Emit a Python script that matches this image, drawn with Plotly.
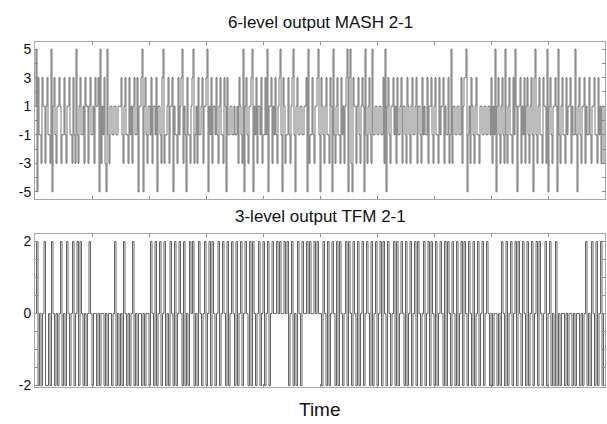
import plotly.graph_objects as go

# 6-level MASH 2-1 output samples (570 samples)
mash_values = [
    1, 5, -5, 3, -1, -1, -3, 3, 1, 1, -3, 1, 3, -1, -1, -3, 5, -5, 1, 3, -1, -3, 1, 1, 3, 1, -3, -1, -1, 3,
    -1, -3, 1, 1, 3, -1, -1, -3, 3, -1, -3, 5, -1, -3, 1, 3, -1, -1, 1, -3, 3, 1, 1, -3, 1, 3, -1, -1, 1, -3,
    3, 1, 1, 3, -5, 5, -3, 1, -1, 3, -3, -5, 5, -1, -3, 1, 1, -1, -1, 1, 1, -1, -1, 1, 1, 1, 3, -1, -3, 1,
    3, -1, -1, -3, 3, -1, 1, -3, 1, 3, -1, -1, 3, -5, 1, 1, 3, 5, -5, 1, 3, -1, -3, 1, 1, -1, 3, -3, 1, 1,
    -1, 3, -5, 1, 1, -1, -3, 3, 5, -3, -1, -1, 1, 3, -3, 1, 1, 3, -5, 1, -1, -1, -3, 3, -1, 1, 3, 5, -3, 1,
    -1, -5, 3, -1, -1, -3, 1, 3, 5, -3, -1, 1, -3, 3, -1, -1, 1, 3, -3, 1, 1, 3, 5, -5, 1, -1, 3, -3, 1, 1,
    -1, 3, -1, -3, 1, 3, -1, -1, -3, 3, 1, -5, 3, -1, -1, 1, 1, -1, -1, 1, -1, -1, 1, -3, 3, 1, -1, -3, 5, -5,
    1, 3, -1, -3, 1, 1, 3, 5, -5, 1, -1, 3, -3, 1, 1, -1, 3, -3, -1, -1, 3, -1, 5, -5, 1, 1, 3, -3, 1, -1,
    3, -1, -3, 1, 3, 5, -1, -5, 3, 1, -3, -1, -1, 3, -1, -3, 1, 3, 5, -1, -5, 1, 3, -1, -1, 1, 1, -1, -1, 1,
    1, 3, -5, 5, -3, -1, -1, 3, -1, -3, 1, 1, 3, 5, -1, -5, 3, 1, -1, -3, 1, 3, -1, -1, -3, 3, 1, -5, 5, -1,
    -3, 1, 3, -1, -1, -3, 3, -1, 1, -3, 1, 3, 5, -5, 3, 5, -3, -5, 3, 1, 1, -3, 1, 3, -1, -3, 1, 3, 1, -5,
    5, -1, -3, 1, 3, -1, -3, 5, -1, -1, 1, 1, -1, -1, 1, 1, -1, -1, 3, -3, 5, -5, 1, 3, -1, -3, 1, 1, 3, -1,
    1, -3, 3, -1, -1, 1, 3, -3, 1, 1, -1, -3, 3, 1, -1, -3, 1, 3, -1, -1, 1, 3, -3, 1, 1, -1, -3, 3, -1, 1,
    -1, -1, 3, -3, 1, 1, 3, -1, -3, 1, 3, -1, -1, -3, 3, -1, 1, 1, 3, -3, 1, -1, -1, 3, -3, -1, 5, -3, 1, 1,
    -1, -1, 1, 1, -1, -1, 3, -3, 1, 3, 3, 5, -5, -1, 1, -3, 3, 1, -1, -3, 1, 3, -1, -1, -3, 1, 1, -1, -1, 1,
    1, -1, -1, 1, 1, -1, 3, -3, 1, -1, 5, -5, 1, 3, -1, -3, 1, 3, -1, -3, 5, -1, -3, 1, 3, -1, -1, -3, 3, -1,
    5, 1, -5, 1, 1, 3, -3, 1, -1, 3, -3, 1, 3, -1, -3, 1, 3, -1, -5, 3, 5, -1, -3, 1, 3, -1, -1, -3, 3, 1,
    1, -3, 5, -5, 1, 3, -1, -3, 1, 1, 3, 1, -5, 5, -1, -3, 1, 3, -1, -1, -3, 3, -1, 1, 1, 3, -3, 1, -1, -1,
    5, -1, -5, 1, 3, -1, -3, 1, 1, 3, -3, 1, -1, -1, 3, -1, -3, 1, 1, 3, -1, -1, -3, 3, -1, 1, -3, 1, 1, -3,
]

# 3-level TFM 2-1 output samples (380 samples)
tfm_values = [
    0, 2, -2, 0, -2, 0, 2, -2, -2, 0, -2, 2, 0, -2, 0, -2, 0, 2, -2, 0, -2, 2, 0, -2, 0, 2, -2, 0, 2, -2, 2, 0, -2, 0, -2, 0, 2, 0,
    -2, 0, 0, -2, 0, -2, 0, 0, -2, 0, -2, 0, 0, -2, 0, 2, -2, 0, -2, 0, -2, 2, 0, -2, 0, -2, 0, 2, -2, 0, -2, 0, 0, -2, 0, -2, 0, 0,
    -2, 2, 0, -2, 2, -2, 0, 2, -2, 0, 2, -2, 0, -2, 2, 0, -2, 2, -2, 0, 2, 0, -2, 2, -2, 0, -2, 2, 0, 2, -2, 0, -2, 2, 0, -2, 0, 2,
    -2, 0, 2, -2, 2, 0, -2, 0, 2, -2, 0, 2, 0, -2, 2, -2, 0, 2, 0, -2, 2, -2, 0, 2, -2, 0, 2, 0, -2, 2, -2, 2, 0, -2, 0, 2, -2, 0,
    2, -2, 0, 2, -2, 0, 2, 0, 0, 2, 0, 2, 0, 0, 2, 0, 2, -2, 0, 2, -2, 0, -2, 2, 0, -2, 2, 0, 0, 2, 0, 2, 0, 0, 2, 0, 2, 0,
    0, -2, 2, 0, -2, 2, -2, 0, 2, 0, -2, 2, -2, 2, 0, -2, 0, 2, -2, 2, 0, -2, 2, 0, -2, 2, -2, 0, 2, -2, 0, 2, 0, -2, 2, -2, 0, 2,
    -2, 0, 2, -2, 2, 0, -2, 2, 0, -2, 0, 2, -2, 2, -2, 0, 2, 0, -2, 2, -2, 0, 2, -2, 0, 2, -2, 2, 0, -2, 0, 2, -2, 0, 2, -2, 2, 0,
    -2, 2, -2, 0, 2, 0, -2, 2, -2, 2, 0, -2, 2, 0, -2, 2, -2, 0, 2, -2, 2, 0, -2, 2, 0, -2, 2, -2, 0, 2, -2, 0, 2, -2, 0, 2, 0, -2,
    0, -2, 0, 0, -2, 0, -2, 2, 0, -2, 2, -2, 0, 2, -2, 0, 2, -2, 2, 0, -2, 2, 0, -2, 2, -2, 0, 2, -2, 0, 2, -2, 2, 0, -2, 0, 2, -2,
    0, 2, -2, 0, -2, 2, -2, 0, -2, 0, 0, -2, 0, -2, 0, 0, -2, 0, -2, 0, 0, -2, 0, -2, 0, 2, -2, 0, -2, 2, 0, -2, 2, -2, 0, 2, -2, 0,
]

mash_yticks = [-5, -4, -3, -2, -1, 0, 1, 2, 3, 4, 5]
mash_ylabels = ["-5", "", "-3", "", "-1", "", "1", "", "3", "", "5"]
tfm_yticks = [-2, -1.5, -1, -0.5, 0, 0.5, 1, 1.5, 2]
tfm_ylabels = ["-2", "", "", "", "0", "", "", "", "2"]
n_xticks = 11

titles = ["6-level output MASH 2-1", "3-level output TFM 2-1"]
x_title = "Time"

FONT = "Liberation Sans, Arial, sans-serif"
LINE = "#3c3c3c"

def steps(vals):
    xs = list(range(len(vals) + 1))
    ys = list(vals) + [vals[-1]]
    return xs, ys

def ticks_for(n):
    return [n * k / (n_xticks - 1) for k in range(n_xticks)]

fig = go.Figure()
x1, y1 = steps(mash_values)
x2, y2 = steps(tfm_values)
fig.add_trace(go.Scatter(x=x1, y=y1, mode="lines", line=dict(shape="hv", color=LINE, width=0.7),
                         xaxis="x", yaxis="y", showlegend=False, hoverinfo="skip"))
fig.add_trace(go.Scatter(x=x2, y=y2, mode="lines", line=dict(shape="hv", color=LINE, width=0.8),
                         xaxis="x2", yaxis="y2", showlegend=False, hoverinfo="skip"))

axis_common = dict(showgrid=False, zeroline=False, showline=True, linecolor="#a8a8a8", linewidth=1,
                   mirror="ticks", ticks="inside", ticklen=3, tickcolor="#8a8a8a",
                   tickfont=dict(family=FONT, size=14, color="#111"))

n1, n2 = len(mash_values), len(tfm_values)
fig.update_layout(
    width=607, height=424,
    margin=dict(l=35, r=2, t=42, b=37),
    plot_bgcolor="white", paper_bgcolor="white",
    xaxis=dict(axis_common, domain=[0, 1], range=[0, n1], tickvals=ticks_for(n1), showticklabels=False, anchor="y"),
    yaxis=dict(axis_common, domain=[0.545, 1], range=[-5.5, 5.5], tickvals=mash_yticks, ticktext=mash_ylabels, anchor="x"),
    xaxis2=dict(axis_common, domain=[0, 1], range=[0, n2], tickvals=ticks_for(n2), showticklabels=False, anchor="y2"),
    yaxis2=dict(axis_common, domain=[0, 0.4435], range=[-2.04, 2.21], tickvals=tfm_yticks, ticktext=tfm_ylabels, anchor="x2"),
    annotations=[
        dict(text=titles[0], x=0.5, y=1, xref="paper", yref="paper", yshift=8, yanchor="bottom",
             showarrow=False, font=dict(family=FONT, size=17, color="#111")),
        dict(text=titles[1], x=0.5, y=0.4435, xref="paper", yref="paper", yshift=6, yanchor="bottom",
             showarrow=False, font=dict(family=FONT, size=17, color="#111")),
        dict(text=x_title, x=0.5, y=0, xref="paper", yref="paper", yshift=-10, yanchor="top",
             showarrow=False, font=dict(family=FONT, size=19, color="#111")),
    ],
)

fig.write_html("out.html", config={"displayModeBar": False},
               post_script="document.body.style.margin='0';document.body.style.overflow='hidden';")
